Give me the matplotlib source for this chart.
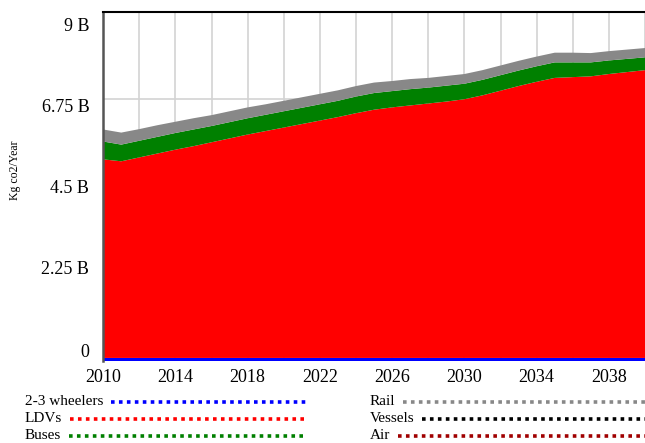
import matplotlib
matplotlib.use("Agg")
import matplotlib.pyplot as plt
import matplotlib.transforms as mtransforms
from matplotlib.lines import Line2D

plt.rcParams['font.family'] = ['Liberation Serif', 'DejaVu Serif']

years = list(range(2010, 2041))

# emissions per mode, billions of kg co2 / year
wheelers = [0.08] * 31
ldvs = [5.12, 5.07, 5.17, 5.27, 5.37, 5.46, 5.56, 5.66, 5.76, 5.85, 5.94,
        6.03, 6.12, 6.21, 6.31, 6.40, 6.46, 6.51, 6.56, 6.61, 6.67,
        6.77, 6.89, 7.01, 7.12, 7.22, 7.24, 7.26, 7.32, 7.37, 7.42]
buses = [0.46, 0.43, 0.43, 0.43, 0.43, 0.43, 0.42, 0.42, 0.42, 0.42, 0.42,
         0.42, 0.42, 0.42, 0.43, 0.43, 0.42, 0.42, 0.41, 0.41, 0.40,
         0.40, 0.40, 0.40, 0.40, 0.40, 0.38, 0.36, 0.35, 0.34, 0.33]
rail = [0.31, 0.31, 0.30, 0.30, 0.29, 0.29, 0.28, 0.28, 0.28, 0.27, 0.27,
        0.27, 0.27, 0.27, 0.27, 0.27, 0.26, 0.26, 0.25, 0.25, 0.25,
        0.25, 0.25, 0.25, 0.25, 0.25, 0.25, 0.24, 0.24, 0.24, 0.24]
vessels = [0.0] * 31
air = [0.0] * 31

names = ['2-3 wheelers', 'LDVs', 'Buses', 'Rail', 'Vessels', 'Air']
colors = ['#0000ff', '#ff0000', '#008000', '#888888', '#000000', '#a00000']
series = [wheelers, ldvs, buses, rail, vessels, air]

yticks = [0, 2.25, 4.5, 6.75, 9]
ylabels = ['0', '2.25 B', '4.5 B', '6.75 B', '9 B']
label_shift = [11, 6, 0, -6, -13]  # vensim squeezes the labels inward (px)

fig = plt.figure(figsize=(6.45, 4.43), dpi=100)
ax = fig.add_axes([0.16, 0.185, 0.84, 0.788])

ax.stackplot(years, *series, colors=colors, linewidth=0)

ax.set_xlim(2010, 2040)
ax.set_ylim(0, 9)
ax.set_xticks(range(2010, 2041, 2), minor=True)
ax.set_xticks(range(2010, 2039, 4))
ax.set_yticks(yticks)
ax.set_yticklabels(ylabels)
ax.grid(True, which='both', axis='x', color='#d3d3d3', linewidth=1.2)
ax.grid(True, axis='y', color='#d3d3d3', linewidth=1.2)
ax.set_axisbelow(True)
ax.tick_params(which='both', length=0, labelsize=13)
ax.tick_params(axis='x', pad=6)
ax.tick_params(axis='y', pad=10)

for lab, dy in zip(ax.get_yticklabels(), label_shift):
    lab.set_transform(lab.get_transform() +
                      mtransforms.ScaledTranslation(0, dy / 100, fig.dpi_scale_trans))

for side in ['right', 'bottom']:
    ax.spines[side].set_visible(False)
ax.spines['top'].set_color('black')
ax.spines['top'].set_linewidth(1.5)
ax.spines['left'].set_color('#555555')
ax.spines['left'].set_linewidth(1.8)

fig.text(0.023, 0.615, 'Kg co2/Year', rotation=90, fontsize=8.5,
         ha='center', va='center')

# legend in two columns of dotted lines like vensim
rows_y = [0.093, 0.055, 0.016]
for i, (name, col) in enumerate(zip(names, colors)):
    col_idx = i // 3
    tx = 0.038 if col_idx == 0 else 0.573
    ty = rows_y[i % 3]
    t = fig.text(tx, ty, name, fontsize=11, ha='left', va='center')
    fig.canvas.draw()
    bb = t.get_window_extent().transformed(fig.transFigure.inverted())
    end = 0.476 if col_idx == 0 else 1.0
    fig.add_artist(Line2D([bb.x1 + 0.012, end], [ty, ty], color=col,
                          linestyle=(0, (1, 1.2)), linewidth=2.6,
                          transform=fig.transFigure))

fig.savefig('out.png', dpi=100)
